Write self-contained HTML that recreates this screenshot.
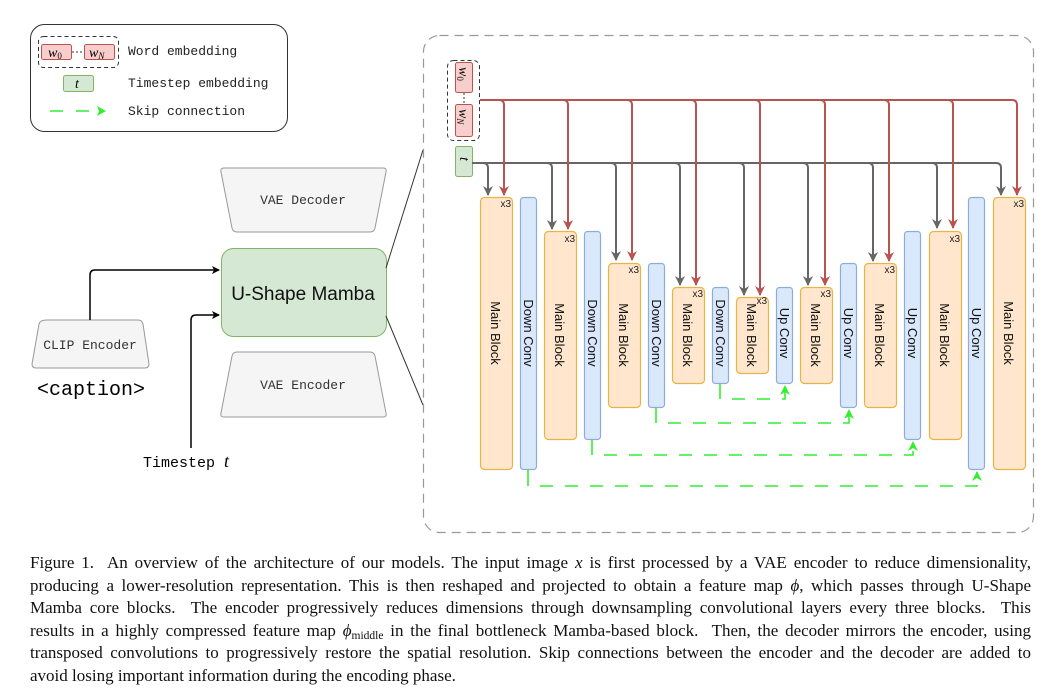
<!DOCTYPE html>
<html><head><meta charset="utf-8"><style>
body{margin:0;background:#fff;width:1059px;height:696px;overflow:hidden;position:relative}
.cap{position:absolute;left:30px;width:1001px;font-family:"Liberation Serif",serif;font-size:17px;line-height:22.5px;top:552px;color:#111}
.cap div{text-align:justify;text-align-last:justify;white-space:nowrap;height:22.5px}
.cap div.l{text-align-last:left}
.cap sub{font-size:11.5px;line-height:0;vertical-align:-3px}
</style></head><body>
<svg width="1059" height="540" style="position:absolute;left:0;top:0" font-family="Liberation Sans, sans-serif">
<defs>
<marker id="ab" markerWidth="8" markerHeight="8" refX="7" refY="4" orient="auto" markerUnits="userSpaceOnUse"><path d="M0,0 L8,4 L0,8 L2,4 Z" fill="#000"/></marker>
<marker id="ag" markerWidth="10" markerHeight="10" refX="9" refY="5" orient="auto" markerUnits="userSpaceOnUse"><path d="M0,0 L10,5 L0,10 L3,5 Z" fill="#666"/></marker>
<marker id="ar" markerWidth="10" markerHeight="10" refX="9" refY="5" orient="auto" markerUnits="userSpaceOnUse"><path d="M0,0 L10,5 L0,10 L3,5 Z" fill="#b85450"/></marker>
<marker id="agr" markerWidth="10" markerHeight="10" refX="9" refY="5" orient="auto" markerUnits="userSpaceOnUse"><path d="M0,0 L10,5 L0,10 L3,5 Z" fill="#33ee33"/></marker>
</defs>
<!-- legend -->
<rect x="30.5" y="24.5" width="257" height="107" rx="14" fill="none" stroke="#333" stroke-width="1"/>
<rect x="38.5" y="36.5" width="80" height="31" rx="5" fill="none" stroke="#333" stroke-dasharray="4,3"/>
<rect x="41.5" y="44.5" width="30" height="15" rx="2" fill="#f8cecc" stroke="#b85450"/>
<rect x="84.5" y="44.5" width="30" height="15" rx="2" fill="#f8cecc" stroke="#b85450"/>
<line x1="72" y1="52" x2="84" y2="52" stroke="#333" stroke-dasharray="2,2"/>
<text x="48" y="57" font-family="Liberation Serif,serif" font-style="italic" font-size="14">w<tspan font-size="9" dy="2" font-style="normal">0</tspan></text>
<text x="89" y="57" font-family="Liberation Serif,serif" font-style="italic" font-size="14">w<tspan font-size="9" dy="2">N</tspan></text>
<rect x="63.5" y="75.5" width="30" height="16" rx="2" fill="#d5e8d4" stroke="#82b366"/>
<text x="75" y="88" font-family="Liberation Serif,serif" font-style="italic" font-size="14">t</text>
<g font-family="Liberation Mono,monospace" font-size="13" fill="#222">
<text x="128" y="55">Word embedding</text>
<text x="128" y="87">Timestep embedding</text>
<text x="128" y="115">Skip connection</text>
</g>
<line x1="50" y1="111" x2="102" y2="111" stroke="#33ee33" stroke-width="1.5" stroke-dasharray="13,13"/>
<path d="M97,106 L106,111 L97,116 L99,111Z" fill="#33ee33"/>
<!-- left diagram -->
<path d="M224,168 L383,168 Q387,168 386,172 L375,228 Q374,232 370,232 L237,232 Q233,232 232,228 L221,172 Q220,168 224,168Z" fill="#f5f5f5" stroke="#999"/>
<text x="303" y="204" text-anchor="middle" font-family="Liberation Mono,monospace" font-size="13" fill="#333">VAE Decoder</text>
<path d="M237,352 L370,352 Q374,352 375,356 L386,413 Q387,417 383,417 L224,417 Q220,417 221,413 L232,356 Q233,352 237,352Z" fill="#f5f5f5" stroke="#999"/>
<text x="303" y="389" text-anchor="middle" font-family="Liberation Mono,monospace" font-size="13" fill="#333">VAE Encoder</text>
<rect x="221.5" y="248.5" width="165" height="88" rx="12" fill="#d5e8d4" stroke="#82b366"/>
<text x="303" y="300" text-anchor="middle" font-size="19" fill="#111">U-Shape Mamba</text>
<path d="M47,320 L138,320 Q142,320 143,324 L149,364 Q149,368 145,368 L36,368 Q32,368 32,364 L39,324 Q40,320 47,320Z" fill="#f5f5f5" stroke="#999"/>
<text x="90" y="349" text-anchor="middle" font-family="Liberation Mono,monospace" font-size="13" fill="#333">CLIP Encoder</text>
<text x="37" y="395" font-family="Liberation Mono,monospace" font-size="20" fill="#000">&lt;caption&gt;</text>
<text x="143" y="467" font-family="Liberation Mono,monospace" font-size="15" fill="#000">Timestep <tspan font-family="Liberation Serif,serif" font-style="italic" font-size="18">t</tspan></text>
<path d="M90,320 L90,275 Q90,270 95,270 L219,270" fill="none" stroke="#000" stroke-width="1.5" marker-end="url(#ab)"/>
<path d="M191,448 L191,320 Q191,315 196,315 L219,315" fill="none" stroke="#000" stroke-width="1.5" marker-end="url(#ab)"/>
<line x1="386" y1="268" x2="423" y2="150" stroke="#333"/>
<line x1="386" y1="316" x2="423" y2="405" stroke="#333"/>
<!-- frame -->
<rect x="423.5" y="35.5" width="610" height="497" rx="16" fill="none" stroke="#999" stroke-width="1.2" stroke-dasharray="9,6"/>
<!-- embeddings -->
<rect x="447.5" y="60.5" width="32" height="80" rx="6" fill="none" stroke="#333" stroke-dasharray="4,3"/>
<rect x="455.5" y="62.5" width="17" height="30" rx="2" fill="#f8cecc" stroke="#b85450"/>
<rect x="455.5" y="104.5" width="17" height="32" rx="2" fill="#f8cecc" stroke="#b85450"/>
<line x1="464" y1="93" x2="464" y2="104" stroke="#333" stroke-dasharray="2,2"/>
<text transform="translate(459,67) rotate(90)" font-family="Liberation Serif,serif" font-style="italic" font-size="14">w<tspan font-size="9" dy="2" font-style="normal">0</tspan></text>
<text transform="translate(459,109) rotate(90)" font-family="Liberation Serif,serif" font-style="italic" font-size="14">w<tspan font-size="9" dy="2">N</tspan></text>
<rect x="455.5" y="146.5" width="17" height="30" rx="2" fill="#d5e8d4" stroke="#82b366"/>
<text transform="translate(460,157) rotate(90)" font-family="Liberation Serif,serif" font-style="italic" font-size="14">t</text>
<!-- buses -->
<path d="M480,100 L1012,100 Q1017,100 1017,105 L1017,195" fill="none" stroke="#b85450" stroke-width="2" marker-end="url(#ar)"/>
<path d="M472,163 L996,163 Q1001,163 1001,168 L1001,195" fill="none" stroke="#666" stroke-width="2" marker-end="url(#ag)"/>
<g fill="none" stroke-width="2">
<g stroke="#666">
<path d="M483,163 Q488,163 488,168 L488,195" marker-end="url(#ag)"/>
<path d="M547,163 Q552,163 552,168 L552,229" marker-end="url(#ag)"/>
<path d="M611,163 Q616,163 616,168 L616,260" marker-end="url(#ag)"/>
<path d="M675,163 Q680,163 680,168 L680,285" marker-end="url(#ag)"/>
<path d="M739,163 Q744,163 744,168 L744,295" marker-end="url(#ag)"/>
<path d="M803,163 Q808,163 808,168 L808,285" marker-end="url(#ag)"/>
<path d="M868,163 Q873,163 873,168 L873,261" marker-end="url(#ag)"/>
<path d="M932,163 Q937,163 937,168 L937,228" marker-end="url(#ag)"/>
</g>
<g stroke="#b85450">
<path d="M499,100 Q504,100 504,105 L504,195" marker-end="url(#ar)"/>
<path d="M563,100 Q568,100 568,105 L568,229" marker-end="url(#ar)"/>
<path d="M627,100 Q632,100 632,105 L632,260" marker-end="url(#ar)"/>
<path d="M691,100 Q696,100 696,105 L696,285" marker-end="url(#ar)"/>
<path d="M755,100 Q760,100 760,105 L760,295" marker-end="url(#ar)"/>
<path d="M820,100 Q825,100 825,105 L825,285" marker-end="url(#ar)"/>
<path d="M884,100 Q889,100 889,105 L889,261" marker-end="url(#ar)"/>
<path d="M948,100 Q953,100 953,105 L953,228" marker-end="url(#ar)"/>
</g>
</g>
<!-- blocks -->
<g stroke-width="1.2">
<g fill="#ffe6cc" stroke="#e5b54a">
<rect x="480.5" y="197.5" width="32" height="272" rx="4"/>
<rect x="544.5" y="231.5" width="32" height="208" rx="4"/>
<rect x="608.5" y="263.5" width="32" height="144" rx="4"/>
<rect x="672.5" y="287.5" width="32" height="96" rx="4"/>
<rect x="736.5" y="297.5" width="32" height="76" rx="4"/>
<rect x="800.5" y="287.5" width="32" height="96" rx="4"/>
<rect x="864.5" y="263.5" width="32" height="144" rx="4"/>
<rect x="929.5" y="231.5" width="32" height="208" rx="4"/>
<rect x="993.5" y="197.5" width="32" height="272" rx="4"/>
</g>
<g fill="#dae8fc" stroke="#8eacd6">
<rect x="520.5" y="197.5" width="16" height="272" rx="3"/>
<rect x="584.5" y="231.5" width="16" height="208" rx="3"/>
<rect x="648.5" y="263.5" width="16" height="144" rx="3"/>
<rect x="712.5" y="287.5" width="16" height="96" rx="3"/>
<rect x="776.5" y="287.5" width="16" height="96" rx="3"/>
<rect x="840.5" y="263.5" width="16" height="144" rx="3"/>
<rect x="904.5" y="231.5" width="16" height="208" rx="3"/>
<rect x="968.5" y="197.5" width="16" height="272" rx="3"/>
</g>
</g>
<g font-size="10" fill="#222" text-anchor="end">
<text x="511" y="207">x3</text><text x="575" y="242">x3</text><text x="639" y="273">x3</text>
<text x="703" y="297">x3</text><text x="767" y="304">x3</text><text x="831" y="297">x3</text>
<text x="895" y="273">x3</text><text x="960" y="242">x3</text><text x="1024" y="207">x3</text>
</g>
<g font-size="13" fill="#111" text-anchor="middle">
<text transform="translate(491,333) rotate(90)">Main Block</text>
<text transform="translate(555,335) rotate(90)">Main Block</text>
<text transform="translate(619,335) rotate(90)">Main Block</text>
<text transform="translate(683,335) rotate(90)">Main Block</text>
<text transform="translate(747,335) rotate(90)">Main Block</text>
<text transform="translate(811,335) rotate(90)">Main Block</text>
<text transform="translate(875,335) rotate(90)">Main Block</text>
<text transform="translate(940,335) rotate(90)">Main Block</text>
<text transform="translate(1004,333) rotate(90)">Main Block</text>
<text transform="translate(524,333) rotate(90)">Down Conv</text>
<text transform="translate(588,333) rotate(90)">Down Conv</text>
<text transform="translate(652,333) rotate(90)">Down Conv</text>
<text transform="translate(716,333) rotate(90)">Down Conv</text>
<text transform="translate(780,333) rotate(90)">Up Conv</text>
<text transform="translate(844,333) rotate(90)">Up Conv</text>
<text transform="translate(908,333) rotate(90)">Up Conv</text>
<text transform="translate(972,333) rotate(90)">Up Conv</text>
</g>
<!-- skips -->
<g fill="none" stroke="#33ee33" stroke-width="1.6">
<path d="M720,384 L720,399" /><path d="M732,399 L785,399 L785,386" stroke-dasharray="13,12" marker-end="url(#agr)"/>
<path d="M656,408 L656,423" /><path d="M668,423 L849,423 L849,410" stroke-dasharray="13,12" marker-end="url(#agr)"/>
<path d="M592,440 L592,455" /><path d="M604,455 L913,455 L913,442" stroke-dasharray="13,12" marker-end="url(#agr)"/>
<path d="M528,470 L528,486" /><path d="M540,486 L977,486 L977,472" stroke-dasharray="13,12" marker-end="url(#agr)"/>
</g>
</svg>
<div class="cap">
<div>Figure 1.&nbsp; An overview of the architecture of our models. The input image <i>x</i> is first processed by a VAE encoder to reduce dimensionality,</div>
<div>producing a lower-resolution representation. This is then reshaped and projected to obtain a feature map <i>ϕ</i>, which passes through U-Shape</div>
<div>Mamba core blocks.&nbsp; The encoder progressively reduces dimensions through downsampling convolutional layers every three blocks.&nbsp; This</div>
<div>results in a highly compressed feature map <i>ϕ</i><sub>middle</sub> in the final bottleneck Mamba-based block.&nbsp; Then, the decoder mirrors the encoder, using</div>
<div>transposed convolutions to progressively restore the spatial resolution. Skip connections between the encoder and the decoder are added to</div>
<div class="l">avoid losing important information during the encoding phase.</div>
</div>
</body></html>
